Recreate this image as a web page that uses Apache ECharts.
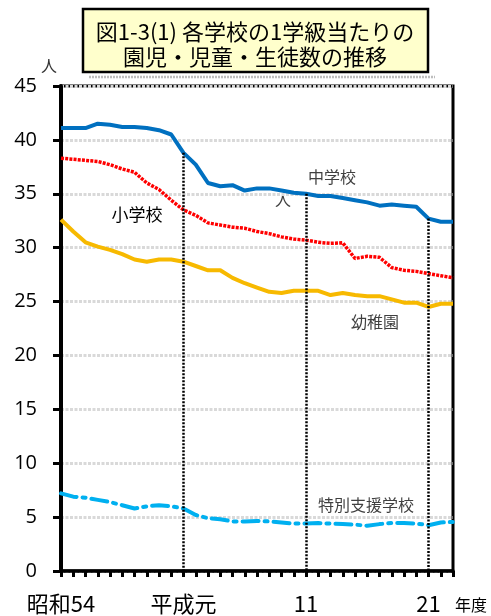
<!DOCTYPE html>
<html>
<head>
<meta charset="utf-8">
<script src="https://cdn.jsdelivr.net/npm/echarts@6/dist/echarts.min.js"></script>
<style>
  html, body { margin: 0; padding: 0; background: #fff; }
  #chart { width: 491px; height: 616px; }
</style>
</head>
<body>
<div id="chart"></div>
<script>
// Fiscal years 昭和54 (1979) to 平成23 (2011)
const years = [
  '昭和54', '55', '56', '57', '58', '59', '60', '61', '62', '63',
  '平成元', '2', '3', '4', '5', '6', '7', '8', '9', '10',
  '11', '12', '13', '14', '15', '16', '17', '18', '19', '20',
  '21', '22', '23'
];
// Labels printed under the axis (others left blank)
const tickLabels = { '昭和54': '昭和54', '平成元': '平成元', '11': '11', '21': '21' };

// Pupils per class
const juniorHigh = [41.1, 41.1, 41.1, 41.5, 41.4, 41.2, 41.2, 41.1, 40.9, 40.5,
  38.8, 37.7, 36.0, 35.7, 35.8, 35.3, 35.5, 35.5, 35.3, 35.1,
  35.0, 34.8, 34.8, 34.6, 34.4, 34.2, 33.9, 34.0, 33.9, 33.8,
  32.7, 32.4, 32.4];
const elementary = [38.3, 38.2, 38.1, 38.0, 37.7, 37.3, 37.0, 36.0, 35.4, 34.4,
  33.5, 33.0, 32.3, 32.1, 31.9, 31.8, 31.5, 31.3, 31.0, 30.8,
  30.7, 30.5, 30.4, 30.45, 29.0, 29.2, 29.1, 28.15, 27.9, 27.8,
  27.6, 27.4, 27.2];
const kindergarten = [32.6, 31.5, 30.5, 30.1, 29.8, 29.4, 28.9, 28.7, 28.9, 28.9,
  28.7, 28.3, 27.9, 27.9, 27.2, 26.7, 26.3, 25.9, 25.8, 26.0,
  26.0, 26.0, 25.6, 25.8, 25.6, 25.5, 25.5, 25.2, 24.9, 24.9,
  24.5, 24.8, 24.8];
const specialNeeds = [7.2, 6.9, 6.8, 6.6, 6.4, 6.1, 5.8, 6.0, 6.1, 6.0,
  5.8, 5.2, 4.9, 4.8, 4.6, 4.6, 4.65, 4.6, 4.5, 4.4,
  4.4, 4.45, 4.4, 4.35, 4.3, 4.2, 4.35, 4.45, 4.45, 4.4,
  4.25, 4.5, 4.55];

// Years marked with a vertical dotted guide
const guideYears = ['平成元', '11', '21'];

const yTicks = { min: 0, max: 45, interval: 5 };

const chart = echarts.init(document.getElementById('chart'), null, { renderer: 'canvas' });

const guideLines = guideYears.map(function (y) {
  const i = years.indexOf(y);
  return [{ coord: [y, juniorHigh[i]] }, { coord: [y, 0] }];
});

const fontJP = '"Noto Sans CJK JP", "Noto Sans", sans-serif';

chart.setOption({
  animation: false,
  backgroundColor: '#fff',
  grid: {
    left: 61, right: 38, top: 86, bottom: 45,
    show: true, borderColor: '#000', borderWidth: 3, backgroundColor: 'transparent'
  },
  xAxis: {
    type: 'category',
    data: years,
    boundaryGap: false,
    axisLine: { show: true, lineStyle: { color: '#000', width: 3.5 } },
    axisTick: { show: true, interval: 0, length: 6, lineStyle: { color: '#000', width: 3 } },
    axisLabel: {
      interval: 0,
      margin: 22,
      color: '#000',
      fontFamily: fontJP,
      fontSize: 22,
      formatter: function (v) { return tickLabels[v] || ''; }
    },
    splitLine: { show: false }
  },
  yAxis: {
    type: 'value',
    min: yTicks.min, max: yTicks.max, interval: yTicks.interval,
    axisLine: { show: true, lineStyle: { color: '#000', width: 4 } },
    axisTick: { show: true, length: 8, lineStyle: { color: '#000', width: 3 } },
    axisLabel: {
      margin: 24, color: '#000', fontSize: 20,
      fontFamily: '"Open Sans", "DejaVu Sans", sans-serif'
    },
    splitLine: { show: true, lineStyle: { color: '#d9d9d9', width: 3, type: [3, 1.5] } }
  },
  series: [
    {
      name: '中学校', type: 'line', data: juniorHigh, symbol: 'none',
      lineStyle: { color: '#0070C0', width: 4 }
    },
    {
      name: '小学校', type: 'line', data: elementary, symbol: 'none',
      lineStyle: { color: '#FF0000', width: 3.5, type: [3, 1.2] }
    },
    {
      name: '幼稚園', type: 'line', data: kindergarten, symbol: 'none',
      lineStyle: { color: '#F7B900', width: 4 }
    },
    {
      name: '特別支援学校', type: 'line', data: specialNeeds, symbol: 'none',
      lineStyle: { color: '#00B0F0', width: 4, type: [16, 6, 3, 6], cap: 'round' },
      markLine: {
        silent: true, symbol: 'none', label: { show: false },
        lineStyle: { color: '#000', width: 2.5, type: [2, 1.5] },
        data: guideLines
      }
    }
  ],
  graphic: [
    // title box shadow
    { type: 'line', shape: { x1: 89, y1: 77, x2: 435, y2: 77 },
      style: { stroke: '#bdbdbd', lineWidth: 2.5, lineDash: [2, 1] } },
    { type: 'rect', shape: { x: 83, y: 9, width: 345, height: 63 },
      style: { fill: '#FFFFCC', stroke: '#000', lineWidth: 2.5 } },
    { type: 'text', x: 255, y: 32,
      style: { text: '図1-3(1) 各学校の1学級当たりの', fontSize: 22, fontFamily: fontJP,
        fill: '#000', align: 'center', verticalAlign: 'middle' } },
    { type: 'text', x: 255, y: 57,
      style: { text: '園児・児童・生徒数の推移', fontSize: 22, fontFamily: fontJP,
        fill: '#000', align: 'center', verticalAlign: 'middle' } },
    // y-axis unit
    { type: 'text', x: 49, y: 66,
      style: { text: '人', fontSize: 16, fontFamily: fontJP, fill: '#333',
        align: 'center', verticalAlign: 'middle' } },
    // x-axis unit
    { type: 'text', x: 471, y: 605,
      style: { text: '年度', fontSize: 16, fontFamily: fontJP, fill: '#000',
        align: 'center', verticalAlign: 'middle' } },
    // series captions
    { type: 'text', x: 332, y: 177,
      style: { text: '中学校', fontSize: 16, fontFamily: fontJP, fill: '#404040',
        align: 'center', verticalAlign: 'middle' } },
    { type: 'text', x: 283, y: 200,
      style: { text: '人', fontSize: 16, fontFamily: fontJP, fill: '#404040',
        align: 'center', verticalAlign: 'middle' } },
    { type: 'text', x: 137, y: 215,
      style: { text: '小学校', fontSize: 17, fontFamily: fontJP, fill: '#000',
        align: 'center', verticalAlign: 'middle' } },
    { type: 'text', x: 375, y: 322,
      style: { text: '幼稚園', fontSize: 16, fontFamily: fontJP, fill: '#404040',
        align: 'center', verticalAlign: 'middle' } },
    { type: 'text', x: 366, y: 505,
      style: { text: '特別支援学校', fontSize: 16, fontFamily: fontJP, fill: '#404040',
        align: 'center', verticalAlign: 'middle' } }
  ]
});
</script>
</body>
</html>
